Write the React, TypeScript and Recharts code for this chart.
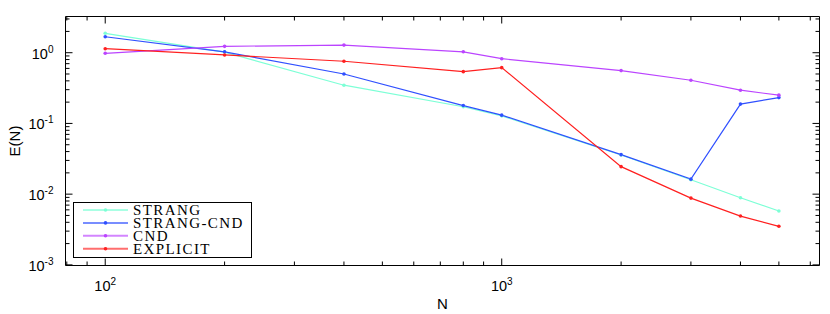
import { LineChart, Line, XAxis, YAxis, Legend } from 'recharts';

const N_VALUES = [100, 200, 400, 800, 1000, 2000, 3000, 4000, 5000];
const STRANG = [1.88, 1.02, 0.347, 0.172, 0.128, 0.0358, 0.016, 0.0089, 0.00577];
const STRANG_CND = [1.68, 1.03, 0.5, 0.179, 0.131, 0.0362, 0.0163, 0.1876, 0.232];
const CND = [0.98, 1.23, 1.28, 1.03, 0.823, 0.558, 0.408, 0.295, 0.251];
const EXPLICIT = [1.14, 0.93, 0.757, 0.54, 0.615, 0.0245, 0.00879, 0.0049, 0.00351];

const X_TICKS = [80, 90, 100, 200, 300, 400, 500, 600, 700, 800, 900, 1000, 2000, 3000, 4000, 5000, 6000];
const Y_TICKS = [
  0.001, 0.002, 0.003, 0.004, 0.005, 0.006, 0.007, 0.008, 0.009,
  0.01, 0.02, 0.03, 0.04, 0.05, 0.06, 0.07, 0.08, 0.09,
  0.1, 0.2, 0.3, 0.4, 0.5, 0.6, 0.7, 0.8, 0.9,
  1, 2, 3,
];

const SERIES = [
  { key: 'strang', name: 'STRANG', color: '#7dffd6', values: STRANG },
  { key: 'strangCnd', name: 'STRANG-CND', color: '#3050ff', values: STRANG_CND },
  { key: 'cnd', name: 'CND', color: '#bb44ff', values: CND },
  { key: 'explicit', name: 'EXPLICIT', color: '#ff2020', values: EXPLICIT },
];

const data = N_VALUES.map((n, i) => {
  const row: Record<string, number> = { N: n };
  SERIES.forEach((s) => {
    row[s.key] = s.values[i];
  });
  return row;
});

const SANS = '"Liberation Sans", Arial, sans-serif';
const X_DOMAIN = [79.4, 6330];
const Y_DOMAIN = [0.00098, 3.25];

const isMajor = (v: number) => Math.abs(Math.log10(v) - Math.round(Math.log10(v))) < 1e-9;

function BottomTick({ x, y, payload }: any) {
  const major = isMajor(payload.value);
  const len = major ? 7 : 4;
  return (
    <g>
      <line x1={x} x2={x} y1={y} y2={y - len} stroke="#000" strokeWidth={1} />
      {major && (
        <text x={x} y={y + 25} textAnchor="middle" fontFamily={SANS} fontSize={14.5} fill="#000">
          10<tspan dy={-6} fontSize={10}>{Math.round(Math.log10(payload.value))}</tspan>
        </text>
      )}
    </g>
  );
}

function TopTick({ x, y, payload }: any) {
  const len = isMajor(payload.value) ? 7 : 4;
  return <line x1={x} x2={x} y1={y} y2={y + len} stroke="#000" strokeWidth={1} />;
}

function LeftTick({ x, y, payload }: any) {
  const major = isMajor(payload.value);
  const len = major ? 7 : 4;
  return (
    <g>
      <line x1={x} x2={x + len} y1={y} y2={y} stroke="#000" strokeWidth={1} />
      {major && (
        <text x={x - 12} y={y + 6} textAnchor="end" fontFamily={SANS} fontSize={14.5} fill="#000">
          10<tspan dy={-6} fontSize={10}>{Math.round(Math.log10(payload.value))}</tspan>
        </text>
      )}
    </g>
  );
}

function RightTick({ x, y, payload }: any) {
  const len = isMajor(payload.value) ? 7 : 4;
  return <line x1={x} x2={x - len} y1={y} y2={y} stroke="#000" strokeWidth={1} />;
}

function LegendBox() {
  return (
    <div
      style={{
        width: 179,
        height: 56,
        border: '1px solid #000',
        background: '#fff',
        boxSizing: 'border-box',
      }}
    >
      <svg width={177} height={54} style={{ display: 'block', overflow: 'visible' }}>
        {SERIES.map((s, i) => {
          const cy = 7 + i * 12.9;
          return (
            <g key={s.key}>
              <line x1={9} x2={54} y1={cy} y2={cy} stroke={s.color} strokeWidth={2} strokeOpacity={0.65} />
              <circle cx={31.5} cy={cy} r={1.8} fill={s.color} />
              <text
                x={59}
                y={cy + 5}
                fontFamily='"Liberation Serif", serif'
                fontSize={15}
                letterSpacing={1.4}
                fill="#000"
              >
                {s.name}
              </text>
            </g>
          );
        })}
      </svg>
    </div>
  );
}

export default function App() {
  return (
    <div style={{ position: 'absolute', left: 0, top: 0, background: '#fff' }}>
      <LineChart
        width={830}
        height={314}
        data={data}
        margin={{ top: 15.5, right: 9.5, bottom: 0, left: 0 }}
      >
        <XAxis
          dataKey="N"
          type="number"
          scale="log"
          domain={X_DOMAIN}
          allowDataOverflow
          ticks={X_TICKS}
          interval={0}
          height={48.5}
          tickSize={0}
          tickMargin={0}
          tickLine={false}
          stroke="#000"
          tick={<BottomTick />}
          label={{ value: 'N', position: 'insideBottom', offset: 5, fontFamily: SANS, fontSize: 15, fill: '#000' }}
        />
        <XAxis
          xAxisId="top"
          dataKey="N"
          type="number"
          scale="log"
          domain={X_DOMAIN}
          allowDataOverflow
          orientation="top"
          ticks={X_TICKS}
          interval={0}
          height={1}
          tickSize={0}
          tickMargin={0}
          tickLine={false}
          stroke="#000"
          tick={<TopTick />}
        />
        <YAxis
          type="number"
          scale="log"
          domain={Y_DOMAIN}
          allowDataOverflow
          ticks={Y_TICKS}
          interval={0}
          width={65.5}
          tickSize={0}
          tickMargin={0}
          tickLine={false}
          stroke="#000"
          tick={<LeftTick />}
          label={{
            value: 'E(N)',
            angle: -90,
            position: 'insideLeft',
            offset: 15,
            fontFamily: SANS,
            fontSize: 15,
            fill: '#000',
            style: { textAnchor: 'middle' },
          }}
        />
        <YAxis
          yAxisId="right"
          type="number"
          scale="log"
          domain={Y_DOMAIN}
          allowDataOverflow
          orientation="right"
          ticks={Y_TICKS}
          interval={0}
          width={1}
          tickSize={0}
          tickMargin={0}
          tickLine={false}
          stroke="#000"
          tick={<RightTick />}
        />
        {/* invisible series so the top and right frame axes get drawn */}
        <Line
          xAxisId="top"
          yAxisId="right"
          dataKey="cnd"
          stroke="none"
          dot={false}
          activeDot={false}
          legendType="none"
          isAnimationActive={false}
        />
        {SERIES.map((s) => (
          <Line
            key={s.key}
            dataKey={s.key}
            name={s.name}
            type="linear"
            stroke={s.color}
            strokeWidth={1.2}
            dot={{ r: 1.8, fill: s.color, stroke: 'none' }}
            activeDot={false}
            isAnimationActive={false}
          />
        ))}
        <Legend
          layout="vertical"
          align="center"
          verticalAlign="middle"
          wrapperStyle={{ left: 73, top: 202, width: 179, height: 56 }}
          content={<LegendBox />}
        />
      </LineChart>
    </div>
  );
}
